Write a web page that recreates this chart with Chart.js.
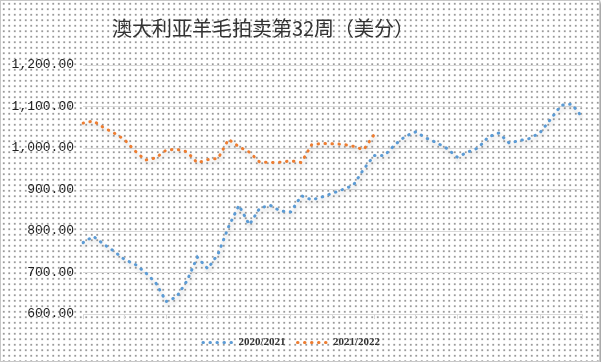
<!DOCTYPE html>
<html>
<head>
<meta charset="utf-8">
<script src="https://cdn.jsdelivr.net/npm/chart.js@4"></script>
<style>
    html, body { margin: 0; padding: 0; background: #fff; }
    #wrap {
        position: relative;
        width: 598px;
        height: 360px;
        border: 1px solid #c8c8c8;
        box-shadow: 2px 2px 3px #9a9a9a;
        background-color: #fff;
        background-image: radial-gradient(circle, #9a9a9a 0.7px, transparent 1px);
        background-size: 5.5px 5.5px;
    }
    #chart { position: absolute; left: 0; top: 0; }
</style>
</head>
<body>
<div id="wrap"><canvas id="chart" width="598" height="360"></canvas></div>
<script>
const chartTitle = '澳大利亚羊毛拍卖第32周（美分）';
const seriesNames = ['2020/2021', '2021/2022'];
const weeks = Array.from({ length: 49 }, (_, i) => i + 1);

// 2020/2021 season, US cents
const season2021 = [772, 787, 768, 751, 731, 720, 700, 675, 630, 641,
    680, 737, 709, 745, 810, 862, 815, 855, 862, 848,
    846, 885, 875, 882, 891, 900, 910, 949, 982, 982,
    1008, 1028, 1039, 1024, 1013, 999, 978, 990, 1000, 1027,
    1036, 1012, 1018, 1023, 1038, 1070, 1103, 1106, 1075];

// 2021/2022 season so far
const season2122 = [1060, 1065, 1049, 1036, 1020, 993, 971, 976, 995, 997,
    991, 964, 972, 975, 1021, 1003, 990, 966, 965, 966,
    969, 965, 1008, 1011, 1010, 1009, 1004, 996, 1032];

const yTicks = { min: 600, max: 1200, step: 100 };

const lineDash = [0.5, 6.5];

const shadowPlugin = {
    id: 'lineShadow',
    beforeDatasetsDraw(chart) {
        const ctx = chart.ctx;
        ctx.save();
        ctx.shadowColor = 'rgba(0, 0, 0, 0.22)';
        ctx.shadowBlur = 4;
        ctx.shadowOffsetX = 1;
        ctx.shadowOffsetY = 3;
    },
    afterDatasetsDraw(chart) {
        chart.ctx.restore();
    }
};

const titlePlugin = {
    id: 'sideTitle',
    afterDraw(chart) {
        const ctx = chart.ctx;
        ctx.save();
        ctx.font = '20px "Noto Sans CJK SC"';
        ctx.fillStyle = '#333';
        ctx.textAlign = 'center';
        ctx.textBaseline = 'middle';
        ctx.fillText(chartTitle, 262, 27);
        ctx.restore();
    }
};

const dotted = {
    borderWidth: 3,
    borderDash: lineDash,
    borderCapStyle: 'round',
    pointRadius: 0,
    tension: 0,
    fill: false
};

new Chart(document.getElementById('chart'), {
    type: 'line',
    data: {
        labels: weeks,
        datasets: [
            Object.assign({ label: seriesNames[0], data: season2021, borderColor: '#5B9BD5', backgroundColor: '#5B9BD5' }, dotted),
            Object.assign({ label: seriesNames[1], data: season2122, borderColor: '#ED7D31', backgroundColor: '#ED7D31' }, dotted)
        ]
    },
    options: {
        responsive: false,
        animation: false,
        layout: { padding: { top: 64, right: 17, left: 0, bottom: 3 } },
        plugins: {
            title: { display: false },
            tooltip: { enabled: false },
            legend: {
                position: 'bottom',
                labels: {
                    usePointStyle: true,
                    pointStyle: 'line',
                    pointStyleWidth: 30,
                    boxHeight: 8,
                    padding: 12,
                    color: '#333',
                    font: { family: '"Liberation Serif"', size: 11, weight: 'bold' },
                    // point style drops the dash, so put it back
                    generateLabels: chart => Chart.defaults.plugins.legend.labels.generateLabels(chart).map(item =>
                        Object.assign(item, { lineDash: lineDash, lineWidth: 3, lineCap: 'round' }))
                }
            }
        },
        scales: {
            x: {
                offset: false,
                grid: {
                    drawOnChartArea: false,
                    drawTicks: true,
                    tickLength: 5,
                    tickColor: ctx => (ctx.index % 4 === 0 ? '#d9d9d9' : 'rgba(0,0,0,0)')
                },
                border: { display: true, color: '#d9d9d9' },
                ticks: { display: false },
                afterFit: scale => { scale.height += 6; }
            },
            y: {
                min: yTicks.min,
                max: yTicks.max,
                grid: { color: '#d9d9d9', drawTicks: false },
                border: { display: false },
                ticks: {
                    stepSize: yTicks.step,
                    padding: 9,
                    color: '#1f1f1f',
                    font: { family: '"Liberation Mono"', size: 13 },
                    callback: v => v.toLocaleString('en-US', { minimumFractionDigits: 2, maximumFractionDigits: 2 })
                },
                afterFit: scale => { scale.width = 82; }
            }
        }
    },
    plugins: [shadowPlugin, titlePlugin]
});
</script>
</body>
</html>
